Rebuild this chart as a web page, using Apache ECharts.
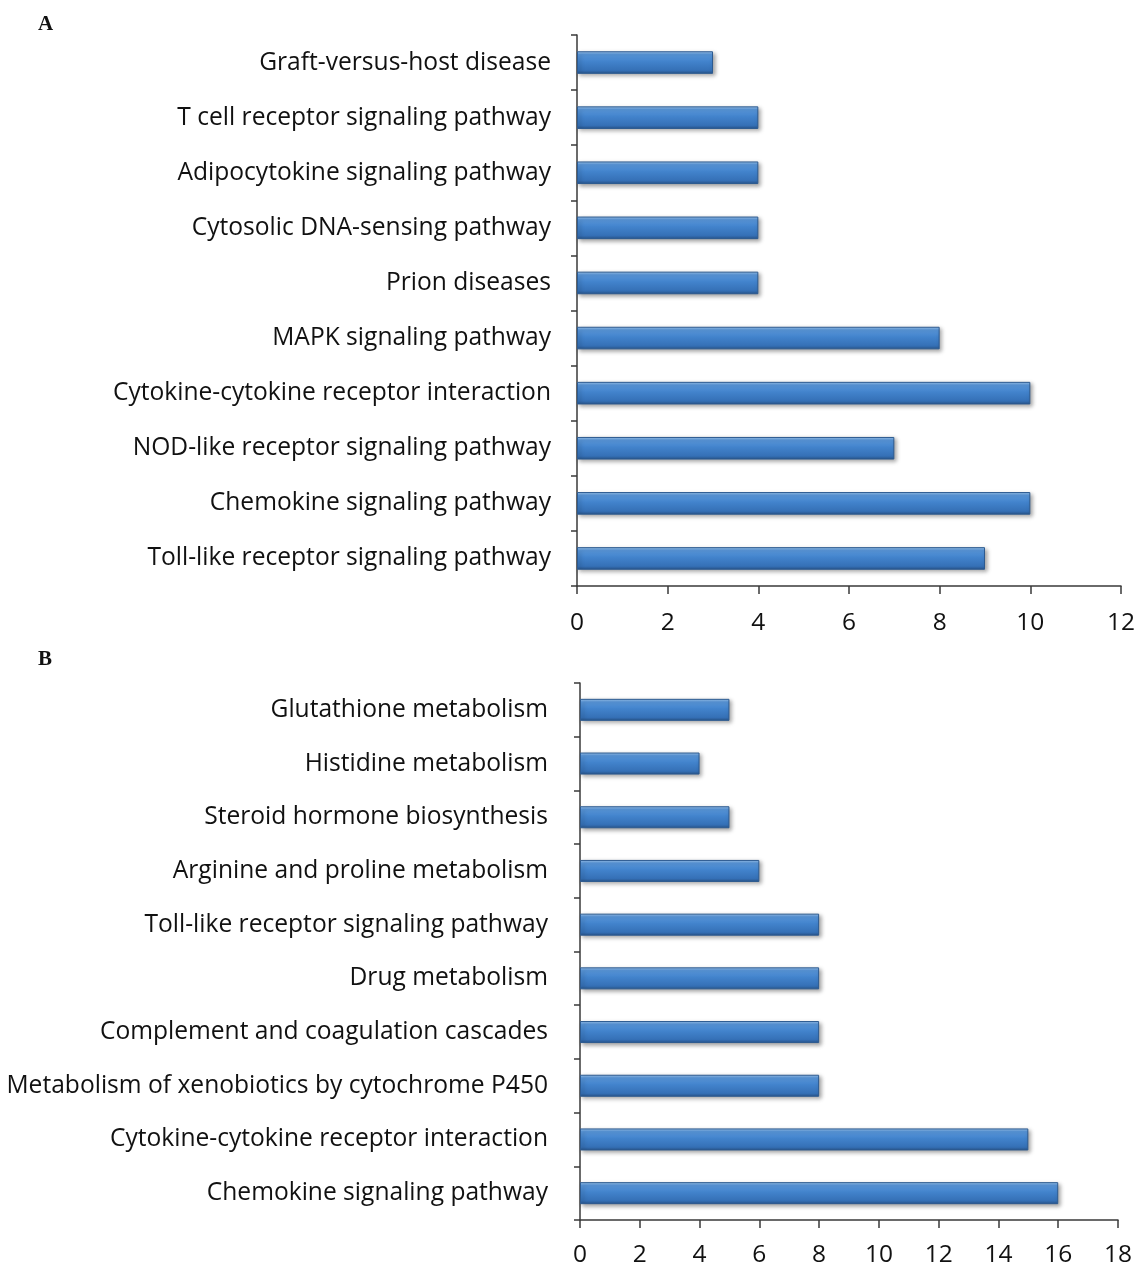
<!DOCTYPE html>
<html>
<head>
<meta charset="utf-8">
<script src="https://cdn.jsdelivr.net/npm/echarts@6/dist/echarts.min.js"></script>
<style>
  html, body { margin: 0; padding: 0; background: #fff; }
  #chart { width: 1141px; height: 1268px; }
</style>
</head>
<body>
<div id="chart"></div>
<script>
// Panel A: KEGG pathways (top to bottom)
const pathwaysA = [
  'Graft-versus-host disease',
  'T cell receptor signaling pathway',
  'Adipocytokine signaling pathway',
  'Cytosolic DNA-sensing pathway',
  'Prion diseases',
  'MAPK signaling pathway',
  'Cytokine-cytokine receptor interaction',
  'NOD-like receptor signaling pathway',
  'Chemokine signaling pathway',
  'Toll-like receptor signaling pathway'
];
const countsA = [3, 4, 4, 4, 4, 8, 10, 7, 10, 9];

// Panel B: KEGG pathways (top to bottom)
const pathwaysB = [
  'Glutathione metabolism',
  'Histidine metabolism',
  'Steroid hormone biosynthesis',
  'Arginine and proline metabolism',
  'Toll-like receptor signaling pathway',
  'Drug metabolism',
  'Complement and coagulation cascades',
  'Metabolism of xenobiotics by cytochrome P450',
  'Cytokine-cytokine receptor interaction',
  'Chemokine signaling pathway'
];
const countsB = [5, 4, 5, 6, 8, 8, 8, 8, 15, 16];

const axisMaxA = 12, axisMaxB = 18, tickStep = 2;

const FONT = '"Open Sans", Lato, sans-serif';
const AXIS_COLOR = '#3a3a3a';

// glossy blue fill: light rim on top, darker edge at the bottom
const barFill = new echarts.graphic.LinearGradient(0, 0, 0, 1, [
  { offset: 0, color: '#a3cbf2' },
  { offset: 0.14, color: '#5a98dc' },
  { offset: 0.45, color: '#4283cc' },
  { offset: 0.85, color: '#3570b6' },
  { offset: 1, color: '#28548a' }
]);

function valueAxis(gridIndex, max, labelMargin) {
  return {
    type: 'value', gridIndex, min: 0, max, interval: tickStep,
    axisLine: { show: true, lineStyle: { color: AXIS_COLOR, width: 1.5 } },
    axisTick: { show: true, length: 8, inside: false, lineStyle: { color: AXIS_COLOR, width: 1.5 } },
    axisLabel: { fontFamily: FONT, fontSize: 24.5, color: '#111', margin: labelMargin },
    splitLine: { show: false }
  };
}

function categoryAxis(gridIndex, names, labelMargin) {
  return {
    type: 'category', gridIndex, data: names, inverse: true,
    axisLine: { show: true, lineStyle: { color: AXIS_COLOR, width: 1.5 } },
    axisTick: { show: true, length: 6, inside: false, alignWithLabel: false, lineStyle: { color: AXIS_COLOR, width: 1.5 } },
    axisLabel: { fontFamily: FONT, fontSize: 24.6, color: '#111', margin: labelMargin, padding: [4, 0, 0, 0] }
  };
}

function barSeries(idx, values) {
  return {
    type: 'bar', xAxisIndex: idx, yAxisIndex: idx, data: values,
    barWidth: '41%',
    itemStyle: {
      color: barFill,
      borderColor: '#2c5a90', borderWidth: 1,
      shadowColor: 'rgba(0,0,0,0.35)', shadowBlur: 4, shadowOffsetX: 2, shadowOffsetY: 2
    },
    silent: true
  };
}

const chart = echarts.init(document.getElementById('chart'), null, { renderer: 'canvas' });
chart.setOption({
  animation: false,
  backgroundColor: '#fff',
  title: [
    { text: 'A', left: 33, top: 9, textStyle: { fontFamily: '"Liberation Serif", serif', fontWeight: 'bold', fontSize: 21, color: '#111' } },
    { text: 'B', left: 33, top: 644, textStyle: { fontFamily: '"Liberation Serif", serif', fontWeight: 'bold', fontSize: 21, color: '#111' } }
  ],
  grid: [
    { left: 577, top: 35, width: 544, height: 551, containLabel: false },
    { left: 580, top: 683, width: 538, height: 539, containLabel: false }
  ],
  xAxis: [valueAxis(0, axisMaxA, 25), valueAxis(1, axisMaxB, 23)],
  yAxis: [categoryAxis(0, pathwaysA, 26), categoryAxis(1, pathwaysB, 32)],
  series: [barSeries(0, countsA), barSeries(1, countsB)]
});
</script>
</body>
</html>
